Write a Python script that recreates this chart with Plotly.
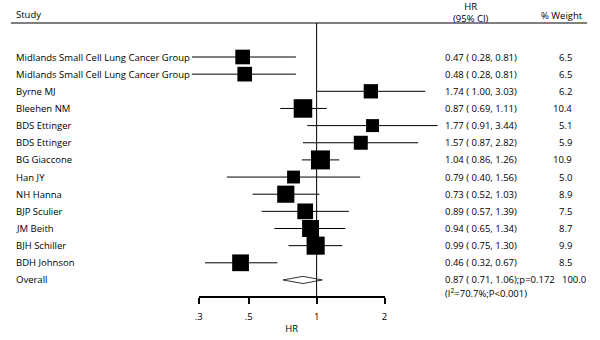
import numpy as np
import plotly.graph_objects as go

studies = ["Midlands Small Cell Lung Cancer Group", "Midlands Small Cell Lung Cancer Group",
           "Byrne MJ", "Bleehen NM", "BDS Ettinger", "BDS Ettinger", "BG Giaccone", "Han JY",
           "NH Hanna", "BJP Sculier", "JM Beith", "BJH Schiller", "BDH Johnson"]
hr = [0.47, 0.48, 1.74, 0.87, 1.77, 1.57, 1.04, 0.79, 0.73, 0.89, 0.94, 0.99, 0.46]
lo = [0.28, 0.28, 1.00, 0.69, 0.91, 0.87, 0.86, 0.40, 0.52, 0.57, 0.65, 0.75, 0.32]
hi = [0.81, 0.81, 3.03, 1.11, 3.44, 2.82, 1.26, 1.56, 1.03, 1.39, 1.34, 1.30, 0.67]
weight = [6.5, 6.5, 6.2, 10.4, 5.1, 5.9, 10.9, 5.0, 8.9, 7.5, 8.7, 9.9, 8.5]
overall = dict(hr=0.87, lo=0.71, hi=1.06, weight=100.0,
               line1="0.87 ( 0.71, 1.06);p=0.172", line2="(I<sup>2</sup>=70.7%;P<0.001)")
tick_vals = [0.3, 0.5, 1, 2]
tick_text = [".3", ".5", "1", "2"]

W, H = 600, 340
FONT = "Open Sans"
FS = 9.5
x_one = 316.3          # pixel of HR = 1
ppd = 228.2            # pixels per decade
row0, dy = 57.0, 17.15
rows = [row0 + dy * i for i in range(len(studies))]
y_over = row0 + dy * len(studies)
y_axis = 297

fig = go.Figure()

# study estimates
fig.add_trace(go.Scatter(
    x=hr, y=rows, mode="markers",
    marker=dict(symbol="square", color="black", opacity=1,
                size=[5.75 * np.sqrt(w) for w in weight], line=dict(width=0)),
    error_x=dict(type="data", symmetric=False,
                 array=[h - m for h, m in zip(hi, hr)],
                 arrayminus=[m - l for m, l in zip(hr, lo)],
                 color="black", thickness=1, width=0),
    hoverinfo="skip", showlegend=False))

# overall diamond
fig.add_trace(go.Scatter(
    x=[overall["lo"], overall["hr"], overall["hi"], overall["hr"], overall["lo"]],
    y=[y_over, y_over - 3.6, y_over, y_over + 3.6, y_over],
    mode="lines", line=dict(color="black", width=0.8), fill="toself", fillcolor="white",
    hoverinfo="skip", showlegend=False))

# dummy trace to activate display axis
fig.add_trace(go.Scatter(x=[1], y=[y_axis], xaxis="x2", mode="markers",
                         marker=dict(opacity=0), hoverinfo="skip", showlegend=False))

# vertical reference line at HR=1
fig.add_trace(go.Scatter(x=[1, 1], y=[23, y_axis], mode="lines",
                         line=dict(color="black", width=1), hoverinfo="skip", showlegend=False))

# header line
fig.add_shape(type="line", xref="paper", yref="y", x0=7 / W, x1=590 / W, y0=23, y1=23,
              line=dict(color="black", width=1.2))

ann = []
def txt(x, y, s, anchor="left", size=FS):
    ann.append(dict(x=x / W, y=y, xref="paper", yref="y", text=s, showarrow=False,
                    xanchor=anchor, yanchor="middle", font=dict(family=FONT, size=size, color="black")))

txt(10, 14, "Study")
txt(473, 12, "HR<br>(95% CI)", "center")
txt(565, 15, "% Weight", "center")
for s, y, h, l, u, w in zip(studies, rows, hr, lo, hi, weight):
    txt(10, y, s)
    txt(444, y, f"{h:.2f} ( {l:.2f}, {u:.2f})")
    txt(577, y, f"{w:.1f}", "right")
txt(10, y_over, "Overall")
txt(444, y_over, overall["line1"])
txt(444, y_over + 13, overall["line2"])
txt(563, y_over, f"{overall['weight']:.1f}", "left")

fig.update_layout(
    width=W, height=H, margin=dict(l=0, r=0, t=0, b=0),
    paper_bgcolor="white", plot_bgcolor="rgba(0,0,0,0)",
    annotations=ann,
    xaxis=dict(type="log", range=[-x_one / ppd, (W - x_one) / ppd], domain=[0, 1],
               visible=False, showgrid=False, zeroline=False),
    xaxis2=dict(type="log", range=[np.log10(0.3), np.log10(2)],
                domain=[x_one / W + np.log10(0.3) * ppd / W, x_one / W + np.log10(2) * ppd / W],
                anchor="free", position=1 - y_axis / H,
                showline=True, linecolor="black", linewidth=1.5,
                ticks="outside", ticklen=6, tickwidth=1.5, tickcolor="black",
                ticklabelstandoff=5,
                tickvals=tick_vals, ticktext=tick_text, showgrid=False, zeroline=False,
                tickfont=dict(family=FONT, size=FS, color="black"),
                title=dict(text="HR", font=dict(family=FONT, size=FS, color="black"), standoff=2)),
    yaxis=dict(range=[H, 0], domain=[0, 1], visible=False, showgrid=False, zeroline=False),
)

fig.write_html("out.html")
